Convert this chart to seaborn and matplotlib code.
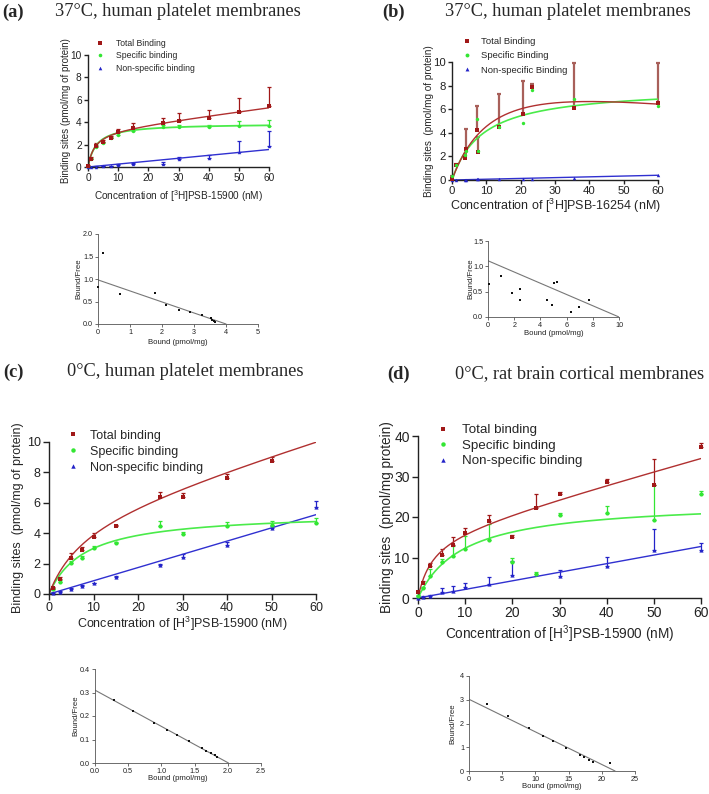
import numpy as np
import pandas as pd
import matplotlib
matplotlib.use("Agg")
import matplotlib.pyplot as plt
from matplotlib.lines import Line2D
import seaborn as sns

sns.set_style("ticks")
plt.rcParams["font.family"] = ["Liberation Sans", "DejaVu Sans"]
plt.rcParams["mathtext.fontset"] = "custom"
plt.rcParams["mathtext.rm"] = "Liberation Sans"
plt.rcParams["mathtext.it"] = "Liberation Sans:italic"

W, H = 709, 794

# ---------------- Panel (a) ----------------
conc_a = [0, 1, 2.5, 5, 7.5, 10, 15, 25, 30, 40, 50, 60]
total_a = [0.1, 0.7, 1.85, 2.25, 2.6, 3.1, 3.5, 3.9, 4.15, 4.35, 4.95, 5.45]
total_a_err = [0.05, 0.15, 0.25, 0.2, 0.15, 0.3, 0.45, 0.45, 0.65, 0.75, 1.25, 1.65]
spec_a = [0.05, 0.7, 1.8, 2.1, 2.55, 2.9, 3.25, 3.55, 3.6, 3.6, 3.65, 3.65]
spec_a_err = [0.0, 0.1, 0.15, 0.15, 0.1, 0.15, 0.15, 0.2, 0.15, 0.15, 0.45, 0.55]
ns_a = [0.0, 0.02, 0.03, 0.05, 0.08, 0.2, 0.3, 0.3, 0.7, 0.8, 1.3, 1.9]
ns_a_err = [0.0, 0.02, 0.02, 0.03, 0.05, 0.1, 0.1, 0.15, 0.2, 0.3, 1.0, 1.3]
fit_a_total = (3.3, 2.2, 0.035)      # Bmax, Kd, non-specific slope
fit_a_spec = (3.89, 2.76)
fit_a_ns = 0.026

# ---------------- Panel (b) ----------------
conc_b = [0.1, 1.3, 3.9, 4.2, 7.3, 7.6, 13.8, 20.6, 23.2, 35.6, 60]
total_b = [0.1, 1.25, 1.9, 2.6, 4.2, 2.35, 4.45, 5.6, 7.85, 6.1, 6.5]
total_b_err = [0.2, 0.1, 0.3, 1.7, 2.1, 1.3, 2.85, 2.8, 0.25, 3.8, 3.4]
spec_b = [0.3, 1.3, 2.1, 2.5, 5.2, 2.5, 4.5, 4.85, 7.6, 6.85, 6.25]
ns_b = [0.0, 0.02, 0.03, 0.04, 0.05, 0.06, 0.08, 0.1, 0.12, 0.2, 0.4]
fit_b_total = (11.29, 14.0, 115.0)   # Vmax, K, Ki (substrate-inhibition shape)
fit_b_spec = (7.88, 9.0)
fit_b_ns = 0.0067

# ---------------- Panel (c) ----------------
conc_c = [1, 2.5, 5, 7.5, 10, 15, 25, 30, 40, 50, 60]
total_c = [0.4, 1.0, 2.4, 2.9, 3.75, 4.45, 6.35, 6.35, 7.6, 8.75, np.nan]
total_c_err = [0.05, 0.15, 0.3, 0.2, 0.25, 0.1, 0.35, 0.3, 0.3, 0.25, np.nan]
spec_c = [0.3, 0.8, 2.05, 2.35, 3.05, 3.35, 4.45, 3.95, 4.45, 4.55, 4.7]
spec_c_err = [0.05, 0.1, 0.1, 0.15, 0.1, 0.1, 0.35, 0.1, 0.3, 0.25, 0.3]
ns_c = [0.08, 0.15, 0.35, 0.55, 0.7, 1.1, 1.9, 2.45, 3.2, 4.35, 5.75]
ns_c_err = [0.02, 0.03, 0.05, 0.05, 0.05, 0.1, 0.1, 0.2, 0.25, 0.1, 0.35]
fit_c_total = (5.4, 8.0, 0.087)
fit_c_spec = (5.4, 8.0)
fit_c_ns = 0.087

# ---------------- Panel (d) ----------------
conc_d = [0, 1, 2.5, 5, 7.5, 10, 15, 20, 25, 30, 40, 50, 60]
total_d = [1.5, 3.8, 7.8, 10.5, 13.1, 16.0, 19.0, 15.1, 22.2, 25.6, 28.6, 27.8, 37.4]
total_d_err = [0.3, 0.4, 0.8, 1.7, 1.9, 1.4, 1.4, 0.4, 3.6, 0.6, 0.7, 6.4, 0.9]
spec_d = [0.5, 2.5, 5.5, 9.0, 10.4, 12.0, 14.3, 9.0, 6.0, 20.4, 20.9, 19.2, 25.7]
spec_d_err = [0.2, 0.3, 1.7, 0.6, 2.5, 3.3, 4.0, 0.8, 0.5, 0.6, 1.7, 8.6, 0.8]
ns_d = [0.0, 0.2, 0.5, 1.5, 1.8, 2.6, 3.4, 5.7, np.nan, 5.5, 7.8, 11.9, 11.9]
ns_d_err = [0.1, 0.2, 0.3, 1.0, 1.1, 1.2, 1.7, 3.4, np.nan, 1.3, 2.3, 5.1, 1.8]
fit_d_total = (16.0, 3.0, 0.32)
fit_d_spec = (24.1, 9.6)
fit_d_ns = 0.212

# ---------------- Scatchard insets ----------------
scat_a_bound = [0.0, 0.16, 0.68, 1.77, 2.14, 2.52, 2.86, 3.24, 3.54, 3.57, 3.61, 3.65]
scat_a_bf = [0.82, 1.57, 0.66, 0.70, 0.42, 0.32, 0.27, 0.20, 0.125, 0.09, 0.066, 0.05]
scat_a_line = (0.98, 4.0)   # y-intercept, x-intercept (Bmax)

scat_b_bound = [0.05, 1.01, 1.85, 2.46, 2.48, 4.53, 4.89, 5.04, 5.27, 6.3, 6.94, 7.7]
scat_b_bf = [0.65, 0.80, 0.47, 0.56, 0.33, 0.33, 0.23, 0.68, 0.70, 0.10, 0.19, 0.33]
scat_b_line = (1.11, 10.0)

scat_c_bound = [0.29, 0.577, 0.889, 1.09, 1.23, 1.41, 1.61, 1.67, 1.74, 1.80, 1.83]
scat_c_bf = [0.269, 0.222, 0.172, 0.142, 0.12, 0.0925, 0.0626, 0.053, 0.041, 0.033, 0.027]
scat_c_line = (0.31, 2.01)

scat_d_bound = [2.77, 5.84, 9.1, 11.2, 12.7, 14.6, 16.65, 17.25, 18.1, 18.6, 21.2]
scat_d_bf = [2.83, 2.32, 1.82, 1.48, 1.27, 0.98, 0.67, 0.57, 0.46, 0.38, 0.35]
scat_d_line = (3.02, 22.0)

RED, GREEN, BLUE = "#A01818", "#33E633", "#2323C8"
RED_L, GREEN_L, BLUE_L = "#B03030", "#4AEB4A", "#3030D0"


def px_axes(fig, box):
    left, top, right, bottom = box
    return fig.add_axes([left / W, 1 - bottom / H, (right - left) / W, (bottom - top) / H])


def label_px(ax, box, xlab_y=None, ylab_x=None):
    left, top, right, bottom = box
    if xlab_y is not None:
        ax.xaxis.set_label_coords(0.5, (bottom - xlab_y) / (bottom - top))
        ax.xaxis.label.set_va("center")
    if ylab_x is not None:
        ax.yaxis.set_label_coords((ylab_x - left) / (right - left), 0.5)
        ax.yaxis.label.set_va("center")
        ax.yaxis.label.set_ha("center")


def px_legend(fig, labels, marker_x, row1_y, text_x, row_gap, fsize, msize):
    fs = fsize * 100 / 72
    hl = 1.0
    x0 = marker_x - 0.5 * hl * fs
    pad = (text_x - x0 - hl * fs) / fs
    ls = max((row_gap - 1.15 * fs) / fs, 0)
    top = row1_y - 0.6 * fs
    handles = [Line2D([], [], ls="none", marker=m, color=c, markersize=msize, markeredgewidth=0)
               for m, c in (("s", RED), ("o", GREEN), ("^", BLUE))]
    fig.legend(handles, labels, loc="upper left", bbox_to_anchor=(x0 / W, 1 - top / H),
               frameon=False, fontsize=fsize, handlelength=hl, handletextpad=pad,
               labelspacing=ls, borderpad=0, borderaxespad=0)


def style_axes(ax, lsize, tlen=3.5, lw=1.0, color="#222222", pad=1.5):
    sns.despine(ax=ax)
    for s in ("left", "bottom"):
        ax.spines[s].set_linewidth(lw)
        ax.spines[s].set_color(color)
    ax.tick_params(direction="out", length=tlen, width=lw, labelsize=lsize, color=color,
                   labelcolor="#222222", pad=pad)


def hyper(x, bmax, kd):
    return bmax * x / (kd + x)


def draw_series(ax, conc, y, err, color, marker, msize, ecolor=None, elw=0.9, cap=1.5):
    y = np.asarray(y, float)
    if err is not None:
        err = np.asarray(err, float)
        ax.errorbar(conc, y, yerr=[np.zeros_like(err), err], fmt="none",
                    ecolor=ecolor or color, elinewidth=elw, capsize=cap, capthick=elw,
                    clip_on=False, zorder=2)
    df = pd.DataFrame({"x": conc, "y": y}).dropna()
    sns.scatterplot(data=df, x="x", y="y", marker=marker, color=color, s=msize,
                    linewidth=0, ax=ax, zorder=3, clip_on=False, legend=False)


def draw_curve(ax, xs, ys, color, lw=1.0):
    sns.lineplot(x=xs, y=ys, color=color, lw=lw, ax=ax, zorder=2.5, estimator=None)


def title_px(fig, tag, tag_x, text, text_x, y, size=13.2):
    fig.text(tag_x / W, 1 - y / H, tag, family="Liberation Serif", fontweight="bold",
             fontsize=size, va="center", ha="left")
    fig.text(text_x / W, 1 - y / H, text, family="Liberation Serif", fontsize=size,
             va="center", ha="left")


def scatchard(fig, box, bound, bf, line, xmax, xticks, ymax, yticks, fmt_x, fmt_y,
              xlab_y, ylab_x):
    ax = px_axes(fig, box)
    sns.scatterplot(x=bound, y=bf, marker="s", color="#111111", s=3, linewidth=0, ax=ax,
                    clip_on=False, zorder=3, legend=False)
    y0, x0 = line
    sns.lineplot(x=[0, x0], y=[y0, 0], color="#777777", lw=0.8, ax=ax, estimator=None)
    ax.set_xlim(0, xmax)
    ax.set_ylim(0, ymax)
    ax.set_xticks(xticks)
    ax.set_yticks(yticks)
    ax.set_xticklabels([fmt_x.format(v) for v in xticks])
    ax.set_yticklabels([fmt_y.format(v) for v in yticks])
    style_axes(ax, 5.2, tlen=2, lw=0.6, color="#555555")
    ax.set_xlabel("Bound (pmol/mg)", fontsize=5.6, color="#222222")
    ax.set_ylabel("Bound/Free", fontsize=5.6, color="#222222")
    label_px(ax, box, xlab_y, ylab_x)
    return ax


fig = plt.figure(figsize=(W / 100, H / 100), dpi=100)

# ======== Panel (a) ========
box_a = (88, 55, 269, 167)
ax = px_axes(fig, box_a)
draw_series(ax, conc_a, ns_a, ns_a_err, BLUE, "^", 6)
draw_series(ax, conc_a, spec_a, spec_a_err, GREEN, "o", 6)
draw_series(ax, conc_a, total_a, total_a_err, RED, "s", 6)
xf = np.linspace(0, 60, 300)
draw_curve(ax, xf, fit_a_ns * xf, BLUE_L)
draw_curve(ax, xf, hyper(xf, *fit_a_spec), GREEN_L, 1.3)
draw_curve(ax, xf, hyper(xf, *fit_a_total[:2]) + fit_a_total[2] * xf, RED_L)
ax.set_xlim(0, 60); ax.set_ylim(0, 10)
ax.set_xticks(range(0, 61, 10)); ax.set_yticks(range(0, 11, 2))
style_axes(ax, 7.3, tlen=3)
ax.set_xlabel("Concentration of [$^3$H]PSB-15900 (nM)", fontsize=7.2)
ax.set_ylabel("Binding sites (pmol/mg of protein)", fontsize=7.0)
label_px(ax, box_a, 196, 66)
px_legend(fig, ["Total Binding", "Specific binding", "Non-specific binding"],
          100, 44, 116, 13.5, 6.2, 2.6)
title_px(fig, "(a)", 2, "37°C, human platelet membranes", 55, 12)

# ======== Panel (b) ========
box_b = (452, 62, 658, 180)
ax = px_axes(fig, box_b)
draw_series(ax, conc_b, ns_b, None, BLUE, "^", 6)
draw_series(ax, conc_b, total_b, total_b_err, RED, "s", 9, ecolor="#A8605A", elw=1.6, cap=1.5)
draw_series(ax, conc_b, spec_b, None, GREEN, "o", 6)
xf = np.linspace(0, 60, 300)
draw_curve(ax, xf, fit_b_ns * xf, BLUE_L)
draw_curve(ax, xf, hyper(xf, *fit_b_spec), GREEN_L, 1.2)
vb, kb, kib = fit_b_total
draw_curve(ax, xf, vb * xf / (kb + xf + xf ** 2 / kib), RED_L)
ax.set_xlim(0, 60); ax.set_ylim(0, 10)
ax.set_xticks(range(0, 61, 10)); ax.set_yticks(range(0, 11, 2))
style_axes(ax, 8.2, tlen=3)
ax.set_xlabel("Concentration of [$^3$H]PSB-16254 (nM)", fontsize=9.0)
ax.set_ylabel("Binding sites  (pmol/mg of protein)", fontsize=7.2)
label_px(ax, box_b, 206, 429)
px_legend(fig, ["Total Binding", "Specific Binding", "Non-specific Binding"],
          467, 43, 481, 16, 6.8, 2.8)
title_px(fig, "(b)", 382, "37°C, human platelet membranes", 445, 12)

# ======== Panel (c) ========
box_c = (49, 442, 316, 594)
ax = px_axes(fig, box_c)
draw_series(ax, conc_c, ns_c, ns_c_err, BLUE, "^", 9)
draw_series(ax, conc_c, spec_c, spec_c_err, GREEN, "o", 9)
draw_series(ax, conc_c, total_c, total_c_err, RED, "s", 11)
xf = np.linspace(0, 60, 300)
draw_curve(ax, xf, fit_c_ns * xf, BLUE_L)
draw_curve(ax, xf, hyper(xf, *fit_c_spec), GREEN_L, 1.2)
draw_curve(ax, xf, hyper(xf, *fit_c_total[:2]) + fit_c_total[2] * xf, RED_L)
ax.set_xlim(0, 60); ax.set_ylim(0, 10)
ax.set_xticks(range(0, 61, 10)); ax.set_yticks(range(0, 11, 2))
style_axes(ax, 9.0, tlen=4, pad=2.0)
ax.set_xlabel("Concentration of [H$^3$]PSB-15900 (nM)", fontsize=9.0)
ax.set_ylabel("Binding sites  (pmol/mg of protein)", fontsize=9.0)
label_px(ax, box_c, 624, 18)
px_legend(fig, ["Total binding", "Specific binding", "Non-specific binding"],
          73, 437, 90, 18.5, 9.0, 3.2)
title_px(fig, "(c)", 3, "0°C, human platelet membranes", 67, 372)

# ======== Panel (d) ========
box_d = (418, 436, 701, 598)
ax = px_axes(fig, box_d)
draw_series(ax, conc_d, ns_d, ns_d_err, BLUE, "^", 9)
draw_series(ax, conc_d, spec_d, spec_d_err, GREEN, "o", 9)
draw_series(ax, conc_d, total_d, total_d_err, RED, "s", 11)
xf = np.linspace(0, 60, 300)
draw_curve(ax, xf, fit_d_ns * xf, BLUE_L)
draw_curve(ax, xf, hyper(xf, *fit_d_spec), GREEN_L, 1.2)
draw_curve(ax, xf, hyper(xf, *fit_d_total[:2]) + fit_d_total[2] * xf, RED_L)
ax.set_xlim(0, 60); ax.set_ylim(0, 40)
ax.set_xticks(range(0, 61, 10)); ax.set_yticks(range(0, 41, 10))
style_axes(ax, 10.0, tlen=4, pad=2.0)
ax.set_xlabel("Concentration of [H$^3$]PSB-15900 (nM)", fontsize=9.8)
ax.set_ylabel("Binding sites  (pmol/mg protein)", fontsize=9.8)
label_px(ax, box_d, 634, 387)
px_legend(fig, ["Total binding", "Specific binding", "Non-specific binding"],
          443, 432, 462, 18.5, 9.6, 3.2)
title_px(fig, "(d)", 387, "0°C, rat brain cortical membranes", 455, 374)

# ======== Scatchard insets ========
scatchard(fig, (98, 234, 258, 324), scat_a_bound, scat_a_bf, scat_a_line,
          5, [0, 1, 2, 3, 4, 5], 2.0, [0, 0.5, 1.0, 1.5, 2.0], "{:.0f}", "{:.1f}", 342, 79)
scatchard(fig, (488, 241, 619, 317), scat_b_bound, scat_b_bf, scat_b_line,
          10, [0, 2, 4, 6, 8, 10], 1.5, [0, 0.5, 1.0, 1.5], "{:.0f}", "{:.1f}", 334, 471)
scatchard(fig, (95, 669, 261, 763), scat_c_bound, scat_c_bf, scat_c_line,
          2.5, [0, 0.5, 1.0, 1.5, 2.0, 2.5], 0.4, [0, 0.1, 0.2, 0.3, 0.4], "{:.1f}", "{:.1f}", 778, 76)
scatchard(fig, (469, 676, 635, 771), scat_d_bound, scat_d_bf, scat_d_line,
          25, [0, 5, 10, 15, 20, 25], 4, [0, 1, 2, 3, 4], "{:.0f}", "{:.0f}", 787, 453)

fig.savefig("out.png", dpi=100)
